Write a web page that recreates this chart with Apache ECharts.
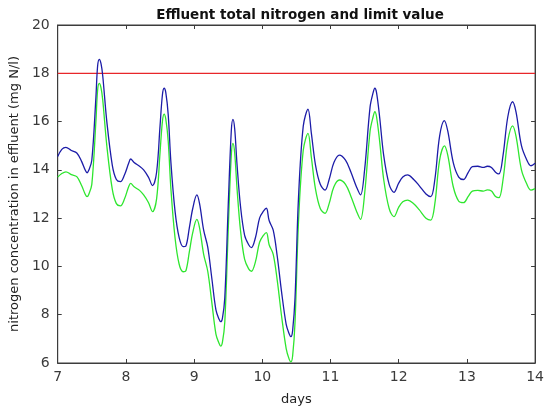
<!DOCTYPE html>
<html>
<head>
<meta charset="utf-8">
<script src="https://cdn.jsdelivr.net/npm/echarts@6/dist/echarts.min.js"></script>
<style>html,body{margin:0;padding:0;background:#fff}#c{width:547px;height:412px}</style>
</head>
<body>
<div id="c"></div>
<script>
const days = [7.00,7.06,7.12,7.20,7.28,7.35,7.405,7.43,7.455,7.50,7.56,7.585,7.61,7.635,7.66,7.72,7.80,7.86,7.92,7.98,8.04,8.07,8.12,8.20,8.26,8.33,8.39,8.45,8.50,8.535,8.56,8.585,8.62,8.66,8.72,8.78,8.84,8.88,8.93,8.98,9.04,9.08,9.14,9.20,9.26,9.32,9.365,9.39,9.415,9.45,9.50,9.545,9.57,9.595,9.63,9.68,9.74,9.80,9.84,9.90,9.96,10.02,10.06,10.10,10.16,10.22,10.28,10.35,10.395,10.42,10.445,10.48,10.53,10.60,10.67,10.72,10.78,10.85,10.92,10.98,11.05,11.13,11.22,11.30,11.38,11.44,11.50,11.58,11.625,11.65,11.675,11.72,11.78,11.86,11.93,12.00,12.06,12.13,12.22,12.30,12.40,12.47,12.53,12.60,12.67,12.72,12.80,12.88,12.95,13.02,13.08,13.16,13.24,13.30,13.36,13.42,13.47,13.53,13.60,13.67,13.72,13.80,13.88,13.94,14.00];
const effluentTN = [14.55,14.85,14.93,14.8,14.7,14.35,13.98,13.88,13.98,14.4,17.0,18.3,18.58,18.4,17.9,16.0,14.2,13.6,13.51,13.8,14.27,14.45,14.3,14.15,14.0,13.7,13.35,13.9,15.8,17.1,17.38,17.2,16.3,14.3,12.3,11.2,10.82,10.85,11.6,12.4,12.96,12.6,11.5,10.8,9.5,8.2,7.82,7.71,7.85,8.7,12.5,15.6,16.09,15.7,14.2,12.5,11.3,10.9,10.78,11.2,12.0,12.3,12.41,11.9,11.5,10.4,9.0,7.6,7.2,7.09,7.35,8.7,12.8,15.8,16.51,15.5,14.2,13.4,13.16,13.6,14.3,14.61,14.4,13.9,13.3,12.96,14.0,16.6,17.2,17.38,17.2,16.2,14.6,13.4,13.07,13.45,13.7,13.79,13.6,13.35,13.0,12.89,13.6,15.4,16.04,15.6,14.3,13.7,13.6,13.9,14.13,14.15,14.1,14.15,14.1,13.9,13.83,14.6,16.2,16.82,16.4,15.0,14.4,14.17,14.27];
const effluentTN2 = [13.7,13.85,13.92,13.8,13.72,13.35,12.98,12.89,12.98,13.4,16.0,17.3,17.58,17.4,16.9,15.0,13.2,12.6,12.51,12.8,13.3,13.44,13.3,13.15,12.96,12.65,12.27,12.8,14.7,16.0,16.31,16.1,15.2,13.2,11.2,10.1,9.78,9.82,10.6,11.4,11.95,11.6,10.5,9.8,8.5,7.2,6.82,6.70,6.85,7.7,11.5,14.6,15.1,14.7,13.2,11.5,10.3,9.9,9.8,10.2,11.0,11.3,11.4,10.9,10.5,9.4,8.0,6.6,6.15,6.05,6.3,7.7,11.8,14.8,15.51,14.5,13.2,12.4,12.2,12.6,13.3,13.58,13.4,12.9,12.3,11.95,13.0,15.6,16.2,16.41,16.2,15.2,13.6,12.4,12.06,12.45,12.68,12.75,12.6,12.35,12.0,11.92,12.6,14.4,14.99,14.6,13.3,12.7,12.64,12.9,13.12,13.15,13.12,13.17,13.12,12.9,12.85,13.6,15.2,15.82,15.4,14.0,13.4,13.16,13.22];
const limitDays = [7, 14];
const limitValue = 18;
const xTicks = [7,8,9,10,11,12,13,14];
const yTicks = [6,8,10,12,14,16,18,20];

const axisColor = '#3c3c3c';
const fontFam = 'DejaVu Sans, Liberation Sans, Arial, sans-serif';
const tickStyle = {color:'#3a3a3a', fontSize:14, fontFamily:fontFam};
const nameStyle = {color:'#222', fontSize:13, fontFamily:fontFam};
function pairs(xs, ys){ return xs.map((x,i)=>[x, ys[i]]); }

const chart = echarts.init(document.getElementById('c'));
chart.setOption({
  backgroundColor:'#fff',
  animation:false,
  title:{text:'Effluent total nitrogen and limit value', left:295, textAlign:'center', top:3,
    textStyle:{fontSize:13.5, fontWeight:'bold', color:'#111', fontFamily:fontFam}},
  grid:{left:57, right:6, top:25, bottom:49, show:true, borderColor:axisColor, borderWidth:1, backgroundColor:'#fff'},
  xAxis:[{type:'value', min:xTicks[0], max:xTicks[xTicks.length-1], interval:1, position:'bottom',
      name:'days', nameLocation:'middle', nameGap:30, nameTextStyle:nameStyle,
      axisLine:{show:true, lineStyle:{color:axisColor}}, axisTick:{inside:true, length:4, lineStyle:{color:axisColor}},
      axisLabel:{...tickStyle, margin:7}, splitLine:{show:false}},
    {type:'value', min:7, max:14, interval:1, position:'top',
      axisLine:{show:true, lineStyle:{color:axisColor}}, axisTick:{inside:true, length:4, lineStyle:{color:axisColor}},
      axisLabel:{show:false}, splitLine:{show:false}}],
  yAxis:[{type:'value', min:yTicks[0], max:yTicks[yTicks.length-1], interval:2, position:'left',
      name:'nitrogen concentration in effluent (mg N/l)', nameLocation:'middle', nameGap:30, nameTextStyle:nameStyle,
      axisLine:{show:true, lineStyle:{color:axisColor}}, axisTick:{inside:true, length:4, lineStyle:{color:axisColor}},
      axisLabel:{...tickStyle, margin:8}, splitLine:{show:false}},
    {type:'value', min:6, max:20, interval:2, position:'right',
      axisLine:{show:true, lineStyle:{color:axisColor}}, axisTick:{inside:true, length:4, lineStyle:{color:axisColor}},
      axisLabel:{show:false}, splitLine:{show:false}}],
  series:[
    {type:'line', data:limitDays.map(d=>[d, limitValue]), symbol:'none', lineStyle:{color:'#e8262a', width:1.3}},
    {type:'line', data:pairs(days, effluentTN2), symbol:'none', smooth:0.35, lineStyle:{color:'#2ee62e', width:1.3}},
    {type:'line', data:pairs(days, effluentTN), symbol:'none', smooth:0.35, lineStyle:{color:'#1c1ca8', width:1.3}}
  ]
});
</script>
</body>
</html>
